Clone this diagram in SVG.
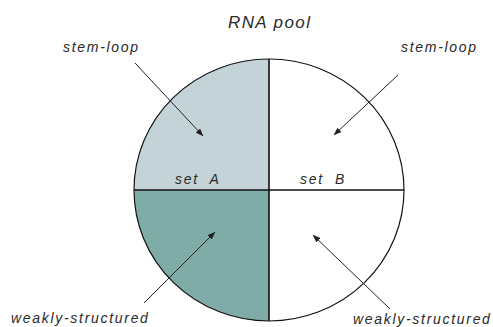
<svg xmlns="http://www.w3.org/2000/svg" width="493" height="327" viewBox="0 0 493 327">
  <defs>
    <marker id="arrow" markerWidth="8" markerHeight="6" refX="7.5" refY="3" orient="auto" markerUnits="userSpaceOnUse">
      <path d="M0,0 L8,3 L0,6 Z" fill="#222"/>
    </marker>
  </defs>
  <style>
    .lbl { font-family: "Liberation Sans", Arial, sans-serif; font-style: italic; fill: #2a2a2a; font-size: 14px; letter-spacing: 1.7px; }
    .title { font-size: 17px; letter-spacing: 1.4px; }
    .edge { stroke: #222; stroke-width: 1; fill: none; marker-end: url(#arrow); }
    .div { stroke: #111; stroke-width: 1.6; }
  </style>
  <rect width="493" height="327" fill="#ffffff"/>

  <!-- pool ellipse split into four quarters -->
  <g id="pool">
    <ellipse cx="269" cy="190" rx="135" ry="131" fill="#ffffff"/>
    <path id="setA-stem" d="M269,190 L134,190 A135,131 0 0 1 269,59 Z" fill="#c3d3d7"/>
    <path id="setA-weak" d="M269,190 L269,321 A135,131 0 0 1 134,190 Z" fill="#80aca7"/>
    <ellipse cx="269" cy="190" rx="135" ry="131" fill="none" stroke="#111" stroke-width="1.2"/>
    <line class="div" x1="134" y1="190" x2="404" y2="190"/>
    <line class="div" x1="269" y1="59" x2="269" y2="321"/>
  </g>

  <g id="labels">
    <text class="lbl title" x="228" y="27.5">RNA pool</text>
    <text class="lbl" x="63" y="51.5">stem-loop</text>
    <text class="lbl" x="401" y="51.5">stem-loop</text>
    <text class="lbl" x="175" y="184">set&#160; A</text>
    <text class="lbl" x="300" y="184">set&#160; B</text>
    <text class="lbl" x="11" y="323">weakly-structured</text>
    <text class="lbl" x="353" y="323.5">weakly-structured</text>
  </g>

  <g id="connectors">
    <line class="edge" x1="135" y1="63" x2="203" y2="136"/>
    <line class="edge" x1="398" y1="75" x2="334" y2="135"/>
    <line class="edge" x1="144" y1="303" x2="215" y2="232"/>
    <line class="edge" x1="390" y1="309" x2="313" y2="235"/>
  </g>
</svg>
